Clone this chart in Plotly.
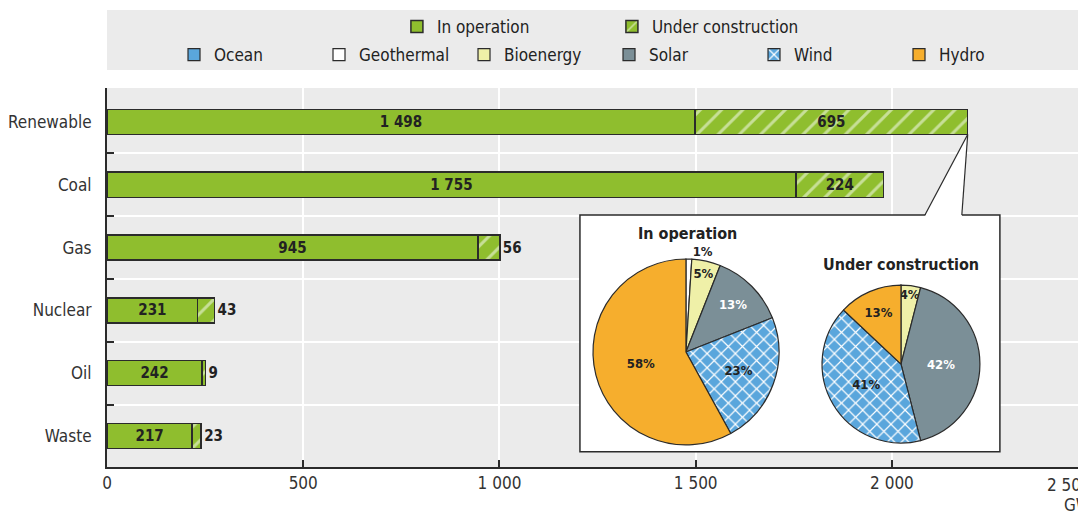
import plotly.graph_objects as go

# Capacity by technology (GW)
categories = ['Renewable', 'Coal', 'Gas', 'Nuclear', 'Oil', 'Waste']
in_operation = [1498, 1755, 945, 231, 242, 217]
under_construction = [695, 224, 56, 43, 9, 23]

# Renewable breakdown (% of renewable capacity)
sources = ['Ocean', 'Geothermal', 'Bioenergy', 'Solar', 'Wind', 'Hydro']
share_operation = [0, 1, 5, 13, 23, 58]
share_construction = [0, 0, 4, 42, 41, 13]

x_ticks = [0, 500, 1000, 1500, 2000]

FONT = "Liberation Sans Narrow, Arial Narrow, DejaVu Sans Condensed, sans-serif"
GREEN = '#8fbe2e'
EDGE = '#2b2b2b'
BG = '#ebebeb'
source_colors = ['#5aa6dc', '#ffffff', '#eff0a8', '#7b8f97', '#5aa6dc', '#f6ae2d']
source_patterns = ['', '', '', '', 'x', '']
source_text_colors = ['#222', '#222', '#222', '#ffffff', '#222', '#222']

positions = list(range(len(categories)))
boundaries = [p + 0.5 for p in positions[:-1]]

fig = go.Figure()

fig.add_trace(go.Bar(
    y=positions, x=in_operation, orientation='h', name='In operation',
    width=0.4, marker=dict(color=GREEN, line=dict(color=EDGE, width=1.5)),
    texttemplate='%{x:,}', textposition='inside', insidetextanchor='middle',
    textfont=dict(family=FONT, size=15, color='#222', weight='bold'),
    legend='legend',
))
fig.add_trace(go.Bar(
    y=positions, x=under_construction, orientation='h', name='Under construction',
    width=0.4,
    marker=dict(color=GREEN, line=dict(color=EDGE, width=1.5),
                pattern=dict(shape='/', fgcolor='white', bgcolor=GREEN, size=15, solidity=0.2)),
    texttemplate='%{x:,}', textposition='auto', insidetextanchor='middle',
    insidetextfont=dict(family=FONT, size=15, color='#222', weight='bold'),
    outsidetextfont=dict(family=FONT, size=15, color='#222', weight='bold'),
    legend='legend',
))


def pie_texts(shares):
    return ['' if s == 0 else '%{percent:.0%}' for s in shares]


pie_marker = dict(colors=source_colors, line=dict(color=EDGE, width=1.2),
                  pattern=dict(shape=source_patterns, fgcolor='white', bgcolor=source_colors,
                               size=10, solidity=0.22))

fig.add_trace(go.Pie(
    labels=sources, values=share_operation, sort=False, direction='clockwise', rotation=0,
    domain=dict(x=[0.5005, 0.692], y=[0.058, 0.549]),
    marker=pie_marker,
    texttemplate=pie_texts(share_operation),
    textposition=['none', 'outside', 'inside', 'inside', 'inside', 'inside'],
    insidetextorientation='horizontal',
    textfont=dict(family=FONT, size=13, color=source_text_colors, weight='bold'),
    outsidetextfont=dict(family=FONT, size=13, color='#222', weight='bold'),
    legend='legend2', hoverinfo='label+percent',
))
fig.add_trace(go.Pie(
    labels=sources, values=share_construction, sort=False, direction='clockwise', rotation=0,
    domain=dict(x=[0.7364, 0.899], y=[0.063, 0.480]),
    marker=pie_marker,
    texttemplate=pie_texts(share_construction),
    textposition=['none', 'none', 'inside', 'inside', 'inside', 'inside'],
    insidetextorientation='horizontal',
    textfont=dict(family=FONT, size=13, color=source_text_colors, weight='bold'),
    legend='legend2', hoverinfo='label+percent',
))

# Inset frame and callout linking the renewable bar to the pies
renew_end = in_operation[0] + under_construction[0]
bar_bottom = positions[0] + 0.2
frame_top = 1.48
shapes = [
    dict(type='rect', xref='paper', yref='paper', x0=0, x1=1, y0=1.0475, y1=1.206,
         fillcolor=BG, line=dict(width=0), layer='below'),
    dict(type='rect', xref='x', yref='y', x0=1205, x1=2275, y0=frame_top, y1=5.25,
         fillcolor='white', line=dict(color=EDGE, width=1.5), layer='between'),
    dict(type='path', xref='x', yref='y',
         path=f'M {renew_end},{bar_bottom} L 2084,{frame_top + 0.02} L 2178,{frame_top + 0.02} Z',
         fillcolor='white', line=dict(width=0), layer='between'),
    dict(type='line', xref='x', yref='y', x0=renew_end, y0=bar_bottom, x1=2084, y1=frame_top,
         line=dict(color=EDGE, width=1.2), layer='between'),
    dict(type='line', xref='x', yref='y', x0=renew_end, y0=bar_bottom, x1=2178, y1=frame_top,
         line=dict(color=EDGE, width=1.2), layer='between'),
]

title_font = dict(family=FONT, size=16, color='#222', weight='bold')
annotations = [
    dict(text='In operation', xref='paper', yref='paper', x=0.598, y=0.615,
         xanchor='center', yanchor='middle', showarrow=False, font=title_font),
    dict(text='Under construction', xref='paper', yref='paper', x=0.8177, y=0.533,
         xanchor='center', yanchor='middle', showarrow=False, font=title_font),
    dict(text='2 500', xref='paper', yref='paper', x=0.9907, y=-0.0475, xanchor='center',
         yanchor='middle', showarrow=False, font=dict(family=FONT, size=17, color='#333')),
    dict(text='GW', xref='paper', yref='paper', x=0.9835, y=-0.100, xanchor='left',
         yanchor='middle', showarrow=False, font=dict(family=FONT, size=17, color='#333')),
]

fig.update_layout(
    width=1078, height=513,
    margin=dict(l=107, r=0, t=88, b=46),
    paper_bgcolor='white', plot_bgcolor=BG,
    barmode='stack', separators='. ',
    font=dict(family=FONT, size=17, color='#333'),
    uniformtext=dict(mode='show', minsize=13),
    shapes=shapes, annotations=annotations,
    xaxis=dict(range=[0, 2474], tickvals=x_ticks, ticks='inside', ticklen=7, tickwidth=1.5,
               tickcolor=EDGE, showgrid=True, gridcolor='white', gridwidth=2, zeroline=False,
               separatethousands=True,
               showline=True, linecolor=EDGE, linewidth=2, tickfont=dict(size=17, color='#333')),
    yaxis=dict(range=[5.494, -0.541], tickvals=positions, ticktext=categories, ticks='',
               showgrid=False, zeroline=False, showline=True, linecolor=EDGE, linewidth=2,
               ticklabelstandoff=10, tickfont=dict(size=17, color='#333'),
               minor=dict(tickvals=boundaries, ticks='inside', ticklen=7, tickwidth=1.5,
                          tickcolor=EDGE, showgrid=True, gridcolor='white', gridwidth=2)),
    legend=dict(orientation='h', x=0.520, xanchor='center', y=1.161, yanchor='middle',
                bgcolor='rgba(0,0,0,0)', font=dict(size=17, color='#222'),
                traceorder='normal', entrywidth=170),
    legend2=dict(orientation='h', x=0.517, xanchor='center', y=1.087, yanchor='middle',
                 bgcolor='rgba(0,0,0,0)', font=dict(size=17, color='#222'),
                 traceorder='normal', entrywidth=100),
)

fig.write_html("out.html")
